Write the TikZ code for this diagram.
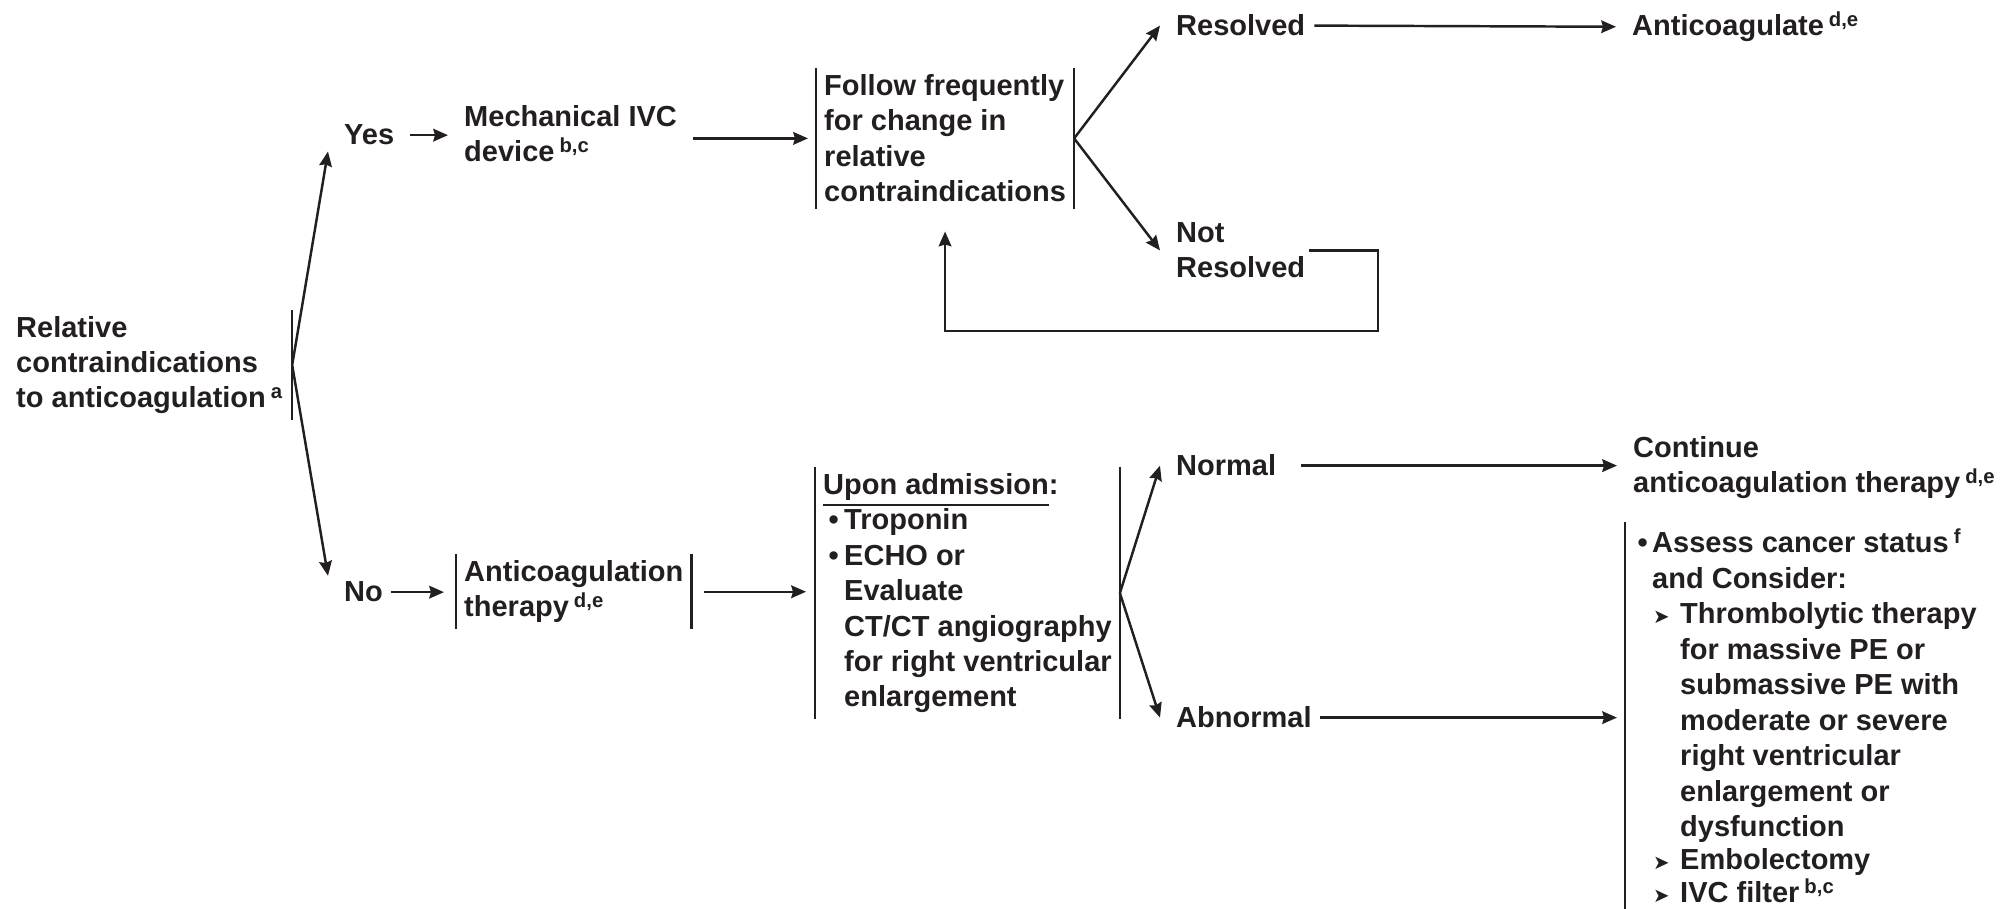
\documentclass[tikz,border=0pt]{standalone}
\usepackage{fontspec}
\setmainfont{Liberation Sans}
\newfontfamily\dingfont{DejaVu Sans}
\usetikzlibrary{arrows.meta}

\definecolor{ink}{HTML}{231F20}
\newcommand{\ssup}[1]{\kern0.05cm\textsuperscript{#1}}
\newcommand{\bul}[1]{\makebox[#1][c]{\textbullet}}
\newcommand{\subarr}{\makebox[0.28cm][l]{\kern0.01cm\dingfont\fontsize{5.6}{6}\selectfont ➤}}

\begin{document}
\begin{tikzpicture}[font=\fontsize{8.25}{10.1}\selectfont\bfseries, color=ink, line width=0.7pt,
	>={Stealth[length=4.2pt,width=3.6pt,inset=0.5pt]},
	lbl/.style={anchor=base west, align=left, inner xsep=0.15cm, inner ysep=0.05cm},
	barbox/.style={anchor=base west, align=left, inner xsep=0.07cm, inner ysep=0.05cm}]
	\useasboundingbox (0,0) rectangle (20.14,9.09);
	% upper branch (base = last line)
	\node[barbox] (rel) at (0.08,5.01) {Relative\\contraindications\\to anticoagulation\ssup{a}};
	\node[lbl] (yes) at (3.28,7.64) {Yes};
	\node[lbl] (mech) at (4.48,7.47) {Mechanical IVC\\device\ssup{b,c}};
	\node[barbox] (follow) at (8.16,7.07) {Follow frequently\\for change in\\relative\\contraindications};
	\node[lbl] (res) at (11.60,8.73) {Resolved};
	\node[lbl] (anticoag) at (16.16,8.73) {Anticoagulate\ssup{d,e}};
	\node[lbl] (notres) at (11.60,6.31) {Not\\Resolved};
	% lower branch
	\node[lbl] (no) at (3.28,3.07) {No};
	\node[barbox] (antither) at (4.56,2.92) {Anticoagulation\\therapy\ssup{d,e}};
	\node[barbox] (upon) at (8.15,2.02) {\underline{Upon admission}:\\\bul{0.21cm}Troponin\\\bul{0.21cm}ECHO or\\
		\hspace*{0.21cm}Evaluate\\\hspace*{0.21cm}CT/CT angiography\\\hspace*{0.21cm}for right ventricular\\\hspace*{0.21cm}enlargement};
	\node[lbl] (normal) at (11.60,4.33) {Normal};
	\node[lbl] (abnormal) at (11.60,1.81) {Abnormal};
	\node[lbl] (cont) at (16.17,4.16) {Continue\\anticoagulation therapy\ssup{d,e}};
	\node[barbox] (assess) at (16.25,0.06) {\bul{0.19cm}Assess cancer status\ssup{f}\\
		\hspace*{0.19cm}and Consider:\\
		\hspace*{0.19cm}\subarr Thrombolytic therapy\\
		\hspace*{0.47cm}for massive PE or\\
		\hspace*{0.47cm}submassive PE with\\
		\hspace*{0.47cm}moderate or severe\\
		\hspace*{0.47cm}right ventricular\\
		\hspace*{0.47cm}enlargement or\\
		\hspace*{0.47cm}dysfunction\\[-0.7pt]
		\hspace*{0.19cm}\subarr Embolectomy\\[-0.7pt]
		\hspace*{0.19cm}\subarr IVC filter\ssup{b,c}};
	% bars
	\draw (rel.north east) -- (rel.south east);
	\foreach \n in {follow,antither,upon} {
		\draw (\n.north west) -- (\n.south west);
		\draw (\n.north east) -- (\n.south east);
	}
	\draw (assess.north west) -- ++(0,-4);
	% connectors
	\draw[->] (rel.east) -- (yes.south west);
	\draw[->] (rel.east) -- (no.north west);
	\draw[->] (yes.east) -- (yes.east -| mech.west);
	\draw[->, shorten >=0.08cm] (mech.east |- follow.west) -- (follow.west);
	\draw[->] (follow.east) -- (res.west);
	\draw[->] (follow.east) -- (notres.west);
	\draw[->, shorten <=-0.07cm] (res.east) -- (anticoag.west);
	\coordinate (loop) at (13.78,5.78);
	\draw[->, shorten <=-0.12cm] (notres.east) -| (loop) -| ([yshift=-0.23cm]follow.south);
	\draw[->, shorten <=-0.08cm, shorten >=0.12cm] (no.east) -- (no.east -| antither.west);
	\draw[->, shorten <=0.12cm, shorten >=0.09cm] (antither.east) -- (upon.west |- antither.east);
	\draw[->] (upon.east) -- (normal.west);
	\draw[->] (upon.east) -- (abnormal.west);
	\draw[->, shorten <=0.09cm] (normal.east) -- (normal.east -| cont.west);
	\draw[->, shorten <=-0.08cm, shorten >=0.08cm] (abnormal.east) -- (abnormal.east -| assess.west);
\end{tikzpicture}
\end{document}
